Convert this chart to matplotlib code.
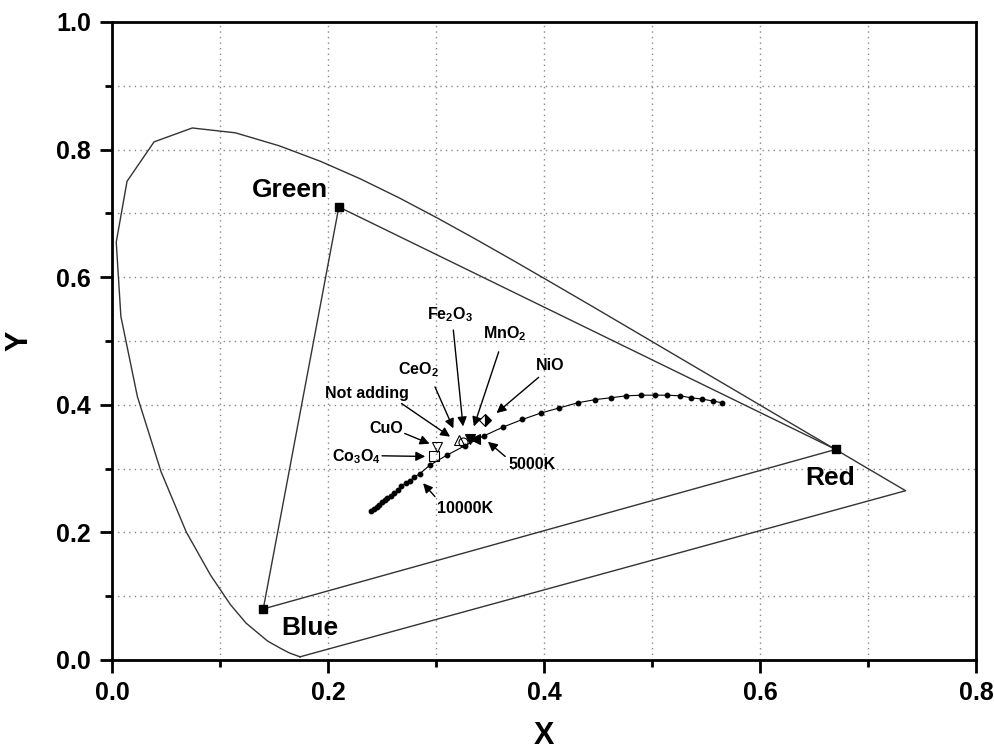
import matplotlib
matplotlib.use('Agg')
import matplotlib.pyplot as plt

plt.rcParams['font.family'] = ['Liberation Sans', 'DejaVu Sans']
plt.rcParams['font.weight'] = 'bold'
plt.rcParams['mathtext.fontset'] = 'custom'
plt.rcParams['mathtext.rm'] = 'Liberation Sans:bold'
plt.rcParams['mathtext.bf'] = 'Liberation Sans:bold'
plt.rcParams['mathtext.it'] = 'Liberation Sans:bold'
plt.rcParams['mathtext.default'] = 'bf'

# spectral locus (chromaticity x, y)
locus_x = [0.1741, 0.1644, 0.1566, 0.1440, 0.1241, 0.1096, 0.0913, 0.0687, 0.0454,
           0.0235, 0.0082, 0.0039, 0.0139, 0.0389, 0.0743, 0.1142, 0.1547, 0.1929,
           0.2296, 0.2658, 0.3016, 0.3373, 0.3731, 0.4087, 0.4441, 0.4788, 0.5125,
           0.5448, 0.5752, 0.6029, 0.6270, 0.6482, 0.6658, 0.6915, 0.7079, 0.7190,
           0.7260, 0.7347, 0.1741]
locus_y = [0.0050, 0.0109, 0.0177, 0.0297, 0.0578, 0.0868, 0.1327, 0.2007, 0.2950,
           0.4127, 0.5384, 0.6548, 0.7502, 0.8120, 0.8338, 0.8262, 0.8059, 0.7816,
           0.7543, 0.7243, 0.6923, 0.6589, 0.6245, 0.5896, 0.5547, 0.5202, 0.4866,
           0.4544, 0.4242, 0.3965, 0.3725, 0.3514, 0.3340, 0.3083, 0.2920, 0.2809,
           0.2740, 0.2653, 0.0050]

# display primaries
prim_names = ['Red', 'Green', 'Blue']
prim_x = [0.67, 0.21, 0.14]
prim_y = [0.33, 0.71, 0.08]

# blackbody locus points
bb_x = [0.240, 0.2425, 0.245, 0.2475, 0.250, 0.2525, 0.255, 0.258, 0.261, 0.2645,
        0.268, 0.272, 0.276, 0.280, 0.285, 0.294, 0.310, 0.327, 0.344, 0.362,
        0.380, 0.397, 0.414, 0.431, 0.447, 0.462, 0.476, 0.490, 0.503, 0.514,
        0.526, 0.536, 0.546, 0.556, 0.565]
bb_y = [0.233, 0.2365, 0.240, 0.2435, 0.247, 0.250, 0.2535, 0.2575, 0.2615, 0.2665,
        0.272, 0.277, 0.281, 0.287, 0.292, 0.305, 0.321, 0.336, 0.351, 0.365,
        0.377, 0.387, 0.395, 0.403, 0.408, 0.411, 0.414, 0.415, 0.415, 0.415,
        0.414, 0.411, 0.409, 0.406, 0.403]

# samples
samp_names = ['Not adding', r'CeO$_2$', r'Fe$_2$O$_3$', r'MnO$_2$', 'NiO', 'CuO', r'Co$_3$O$_4$']
samp_x = [0.321, 0.325, 0.331, 0.336, 0.345, 0.301, 0.298]
samp_y = [0.345, 0.341, 0.347, 0.346, 0.376, 0.334, 0.319]
samp_mk = ['^', 'o', 'v', '<', 'D', 'v', 's']
samp_fill = ['none', 'none', 'full', 'full', 'right', 'none', 'none']

# label text position, arrow tail, arrow head
lab_txt = [(0.236, 0.417), (0.284, 0.455), (0.313, 0.541), (0.364, 0.512),
           (0.406, 0.462), (0.254, 0.363), (0.2265, 0.319)]
lab_tail = [(0.268, 0.402), (0.299, 0.428), (0.316, 0.517), (0.358, 0.483),
            (0.395, 0.443), (0.271, 0.355), (0.250, 0.320)]
lab_head = [(0.313, 0.350), (0.316, 0.363), (0.325, 0.366), (0.335, 0.366),
            (0.356, 0.387), (0.294, 0.339), (0.290, 0.319)]

temp_names = ['5000K', '10000K']
temp_txt = [(0.3886, 0.306), (0.327, 0.238)]
temp_tail = [(0.364, 0.319), (0.299, 0.256)]
temp_head = [(0.348, 0.342), (0.288, 0.277)]

fig = plt.figure(figsize=(9.94, 7.56), dpi=100)
ax = fig.add_axes([0.1127, 0.127, 0.8693, 0.844])

ax.plot(locus_x, locus_y, color='#333333', lw=1.0)
ax.plot(prim_x + prim_x[:1], prim_y + prim_y[:1], color='#333333', lw=1.0)
ax.plot(prim_x, prim_y, 's', color='k', ms=5.5, ls='none')
ax.plot(bb_x, bb_y, '-o', color='k', lw=0.8, ms=3.2)

for i in range(len(samp_x)):
    ax.plot(samp_x[i], samp_y[i], marker=samp_mk[i], ms=6.5, color='k',
            mfc='k' if samp_fill[i] != 'none' else 'white', fillstyle=samp_fill[i],
            mew=0.8, ls='none', zorder=5)

arr = dict(arrowstyle='-|>', color='k', lw=1.0, mutation_scale=14,
           shrinkA=0, shrinkB=0)
for name, t, a, h in zip(samp_names + temp_names, lab_txt + temp_txt,
                         lab_tail + temp_tail, lab_head + temp_head):
    ax.text(t[0], t[1], name, fontsize=11.5, fontweight='bold', ha='center', va='center')
    ax.annotate('', xy=h, xytext=a, arrowprops=arr)

ax.text(0.165, 0.736, 'Green', fontsize=19, fontweight='bold', ha='center', va='center')
ax.text(0.665, 0.285, 'Red', fontsize=19, fontweight='bold', ha='center', va='center')
ax.text(0.183, 0.050, 'Blue', fontsize=19, fontweight='bold', ha='center', va='center')

ax.set_xlim(0, 0.8)
ax.set_ylim(0, 1.0)
ax.set_xticks([0.0, 0.2, 0.4, 0.6, 0.8])
ax.set_yticks([0.0, 0.2, 0.4, 0.6, 0.8, 1.0])
ax.set_xticks([0.1, 0.3, 0.5, 0.7], minor=True)
ax.set_yticks([0.1, 0.3, 0.5, 0.7, 0.9], minor=True)
ax.set_xticklabels(['0.0', '0.2', '0.4', '0.6', '0.8'])
ax.set_yticklabels(['0.0', '0.2', '0.4', '0.6', '0.8', '1.0'])
ax.tick_params(which='major', direction='out', length=9, width=2, labelsize=18, pad=6)
ax.tick_params(which='minor', direction='out', length=5, width=2)
for lb in ax.get_xticklabels() + ax.get_yticklabels():
    lb.set_fontweight('bold')
ax.grid(True, which='both', ls=(0, (1, 3)), color='#888888', lw=1.0)
for s in ax.spines.values():
    s.set_linewidth(2)

ax.set_xlabel('X', fontsize=22, fontweight='bold', labelpad=12)
ax.set_ylabel('Y', fontsize=22, fontweight='bold', labelpad=16)

fig.savefig('out.png', dpi=100)
